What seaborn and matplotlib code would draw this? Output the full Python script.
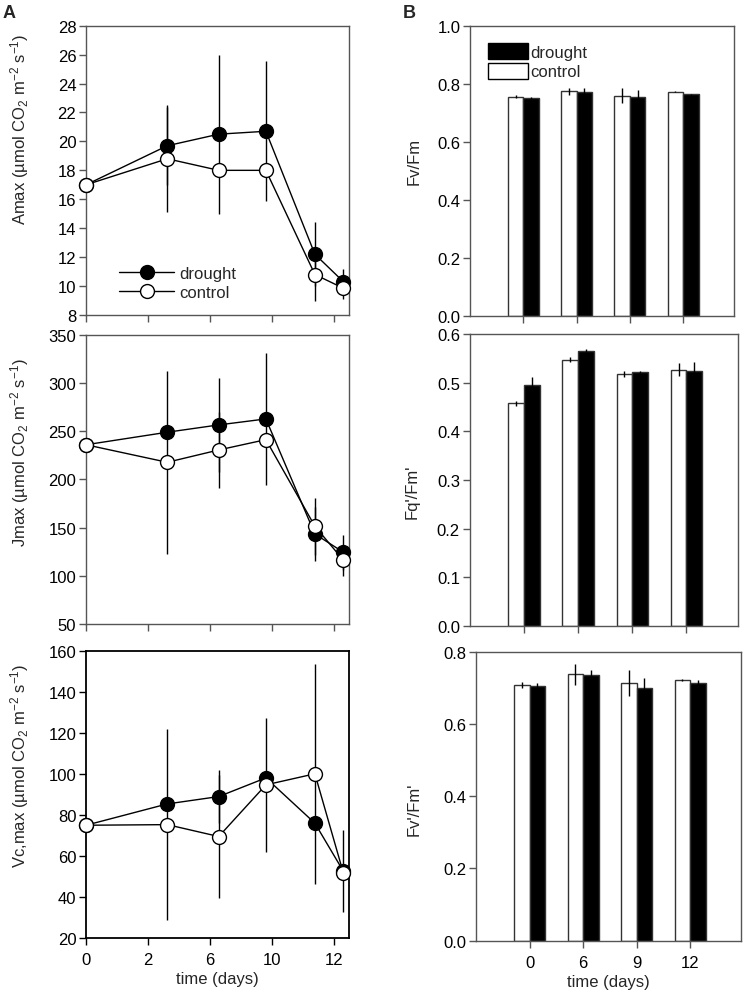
import numpy as np
import pandas as pd
import matplotlib
matplotlib.use("Agg")
import matplotlib.pyplot as plt
from matplotlib.lines import Line2D
from matplotlib.patches import Patch
import seaborn as sns

# --- data ---
# panel A: gas exchange, x positions on the (non-linear) time axis
time_pos = [0, 1.31, 2.14, 2.90, 3.69, 4.15]
time_tick_pos = [0, 1, 2, 3, 4]
time_tick_labels = ['0', '2', '6', '10', '12']

amax_drought = [17.0, 19.7, 20.5, 20.7, 12.2, 10.3]
amax_drought_err = [0, 2.7, 5.5, 4.85, 2.2, 0.85]
amax_control = [17.0, 18.8, 18.0, 18.0, 10.8, 9.85]
amax_control_err = [0, 3.7, 0, 0, 1.8, 0.75]

jmax_drought = [236, 249, 256.6, 262.8, 143.4, 124.4]
jmax_drought_err = [0, 0, 49, 68.5, 28.4, 18]
jmax_control = [236, 217.8, 230.6, 241.3, 151.4, 116.1]
jmax_control_err = [0, 95, 39.4, 0, 29.5, 16]

vcmax_drought = [75, 85.4, 89, 98.1, 76, 52.5]
vcmax_drought_err = [0, 0, 13, 0, 0, 20]
vcmax_control = [75, 75.3, 69.5, 94.7, 100.1, 51.6]
vcmax_control_err = [0, 46.5, 30, 32.6, 53.7, 0]

# panel B: chlorophyll fluorescence
days = ['0', '6', '9', '12']
treatments = ['control', 'drought']

fvfm_control = [0.757, 0.776, 0.760, 0.774]
fvfm_control_err = [0.005, 0.012, 0.026, 0.002]
fvfm_drought = [0.752, 0.774, 0.757, 0.765]
fvfm_drought_err = [0.004, 0.012, 0.024, 0.002]

fqfm_control = [0.4575, 0.547, 0.518, 0.527]
fqfm_control_err = [0.005, 0.005, 0.007, 0.014]
fqfm_drought = [0.496, 0.566, 0.521, 0.525]
fqfm_drought_err = [0.015, 0.003, 0.002, 0.018]

fvfmp_control = [0.708, 0.737, 0.712, 0.721]
fvfmp_control_err = [0.008, 0.029, 0.036, 0.003]
fvfmp_drought = [0.706, 0.734, 0.699, 0.714]
fvfmp_drought_err = [0.006, 0.014, 0.027, 0.007]

# --- style ---
sns.set_style('ticks')
plt.rcParams['font.family'] = ['Liberation Sans', 'DejaVu Sans']
plt.rcParams['mathtext.default'] = 'regular'
plt.rcParams['font.size'] = 12

fig = plt.figure(figsize=(7.44, 9.95), dpi=100)

frame_grey = '#555555'


def style_axes(ax, color=frame_grey, lw=1.0):
    for sp in ax.spines.values():
        sp.set_visible(True)
        sp.set_color(color)
        sp.set_linewidth(lw)
    ax.tick_params(axis='both', direction='out', length=5, width=1,
                   color=color, labelsize=12, labelcolor='black', pad=2)
    ax.tick_params(axis='x', pad=5)


def line_panel(ax, drought, d_err, control, c_err, ylim, yticks, ylabel, label_y):
    df = pd.DataFrame({'time': time_pos * 2,
                       'value': drought + control,
                       'err': d_err + c_err,
                       'treatment': ['drought'] * len(time_pos) + ['control'] * len(time_pos)})
    for treat in ['drought', 'control']:
        sub = df[df['treatment'] == treat]
        ax.errorbar(sub['time'], sub['value'], yerr=sub['err'], fmt='none',
                    ecolor='black', elinewidth=1, capsize=0, zorder=2)
    for treat, face in [('drought', 'black'), ('control', 'white')]:
        sub = df[df['treatment'] == treat]
        sns.lineplot(data=sub, x='time', y='value', ax=ax, color='black', lw=1,
                     marker='o', markersize=10, markerfacecolor=face,
                     markeredgecolor='black', markeredgewidth=1,
                     errorbar=None, clip_on=False, zorder=3, label=treat)
    ax.set_xlim(0, 4.24)
    ax.set_ylim(*ylim)
    ax.set_yticks(yticks)
    ax.set_xticks(time_tick_pos)
    ax.set_ylabel(ylabel, fontsize=12)
    ax.yaxis.set_label_coords(-0.21, label_y)
    ax.set_xlabel('')
    if ax.get_legend() is not None:
        ax.get_legend().remove()


def bar_panel(ax, control, c_err, drought, d_err, ylim, yticks, ylabel, label_x, label_y):
    df = pd.DataFrame({'day': days * 2,
                       'value': control + drought,
                       'treatment': ['control'] * len(days) + ['drought'] * len(days)})
    errs = {'control': c_err, 'drought': d_err}
    sns.barplot(data=df, x='day', y='value', hue='treatment', order=days,
                hue_order=treatments,
                palette={'control': 'white', 'drought': 'black'},
                edgecolor='#333333', linewidth=1, width=0.58,
                errorbar=None, legend=False, ax=ax)
    for cont, treat in zip(ax.containers, treatments):
        xs = [b.get_x() + b.get_width() / 2 for b in cont]
        hs = [b.get_height() for b in cont]
        ax.errorbar(xs, hs, yerr=errs[treat], fmt='none', ecolor='black',
                    elinewidth=1, capsize=0, zorder=3)
    ax.set_xlim(-1.0, 3.95)
    ax.set_ylim(*ylim)
    ax.set_yticks(yticks)
    ax.set_yticklabels([f'{v:.1f}' for v in yticks])
    ax.set_ylabel(ylabel, fontsize=12)
    ax.yaxis.set_label_coords(label_x, label_y)
    ax.set_xlabel('')


unit = ' (µmol CO$_2$ m$^{-2}$ s$^{-1}$)'

# left column
axA1 = fig.add_axes([0.1156, 0.6824, 0.3535, 0.2908])
line_panel(axA1, amax_drought, amax_drought_err, amax_control, amax_control_err,
           (8, 28), np.arange(8, 29, 2), 'Amax' + unit, 0.645)
axA1.set_xticklabels([])
style_axes(axA1)
handles = [Line2D([], [], color='black', lw=1, marker='o', markersize=10,
                  markerfacecolor=f, markeredgecolor='black') for f in ['black', 'white']]
axA1.legend(handles, ['drought', 'control'], loc='lower left',
            bbox_to_anchor=(0.07, 0.0), frameon=False, fontsize=12,
            handlelength=3.3, handletextpad=0.3, labelspacing=0.25)

axA2 = fig.add_axes([0.1156, 0.3719, 0.3535, 0.2905])
line_panel(axA2, jmax_drought, jmax_drought_err, jmax_control, jmax_control_err,
           (50, 350), np.arange(50, 351, 50), 'Jmax' + unit, 0.597)
axA2.set_xticklabels([])
style_axes(axA2)

axA3 = fig.add_axes([0.1156, 0.0563, 0.3535, 0.2884])
line_panel(axA3, vcmax_drought, vcmax_drought_err, vcmax_control, vcmax_control_err,
           (20, 160), np.arange(20, 161, 20), 'Vc,max' + unit, 0.603)
axA3.set_xticklabels(time_tick_labels)
axA3.set_xlabel('time (days)', fontsize=12, labelpad=3)
style_axes(axA3, color='black', lw=1.3)

# right column
axB1 = fig.add_axes([0.6321, 0.6817, 0.354, 0.2909])
bar_panel(axB1, fvfm_control, fvfm_control_err, fvfm_drought, fvfm_drought_err,
          (0, 1.0), np.arange(0, 1.01, 0.2), 'Fv/Fm', -0.183, 0.536)
axB1.set_xticklabels([])
style_axes(axB1)
axB1.legend([Patch(facecolor='black', edgecolor='black'),
             Patch(facecolor='white', edgecolor='black')],
            ['drought', 'control'], loc='upper left', bbox_to_anchor=(0.03, 0.975),
            frameon=False, fontsize=12, handlelength=2.4, handleheight=1.1,
            handletextpad=0.1, labelspacing=0.15, borderaxespad=0.2)

axB2 = fig.add_axes([0.6313, 0.3698, 0.3606, 0.2935])
bar_panel(axB2, fqfm_control, fqfm_control_err, fqfm_drought, fqfm_drought_err,
          (0, 0.6), np.arange(0, 0.61, 0.1), "Fq'/Fm'", -0.185, 0.463)
axB2.set_xticklabels([])
style_axes(axB2)

axB3 = fig.add_axes([0.6398, 0.0536, 0.3562, 0.2905])
bar_panel(axB3, fvfmp_control, fvfmp_control_err, fvfmp_drought, fvfmp_drought_err,
          (0, 0.8), np.arange(0, 0.81, 0.2), "Fv'/Fm'", -0.204, 0.459)
axB3.set_xlabel('time (days)', fontsize=12, labelpad=3)
style_axes(axB3)

fig.text(0.004, 0.995, 'A', fontsize=13, fontweight='bold', va='top', ha='left')
fig.text(0.542, 0.995, 'B', fontsize=13, fontweight='bold', va='top', ha='left')

fig.savefig('out.png', dpi=100)
